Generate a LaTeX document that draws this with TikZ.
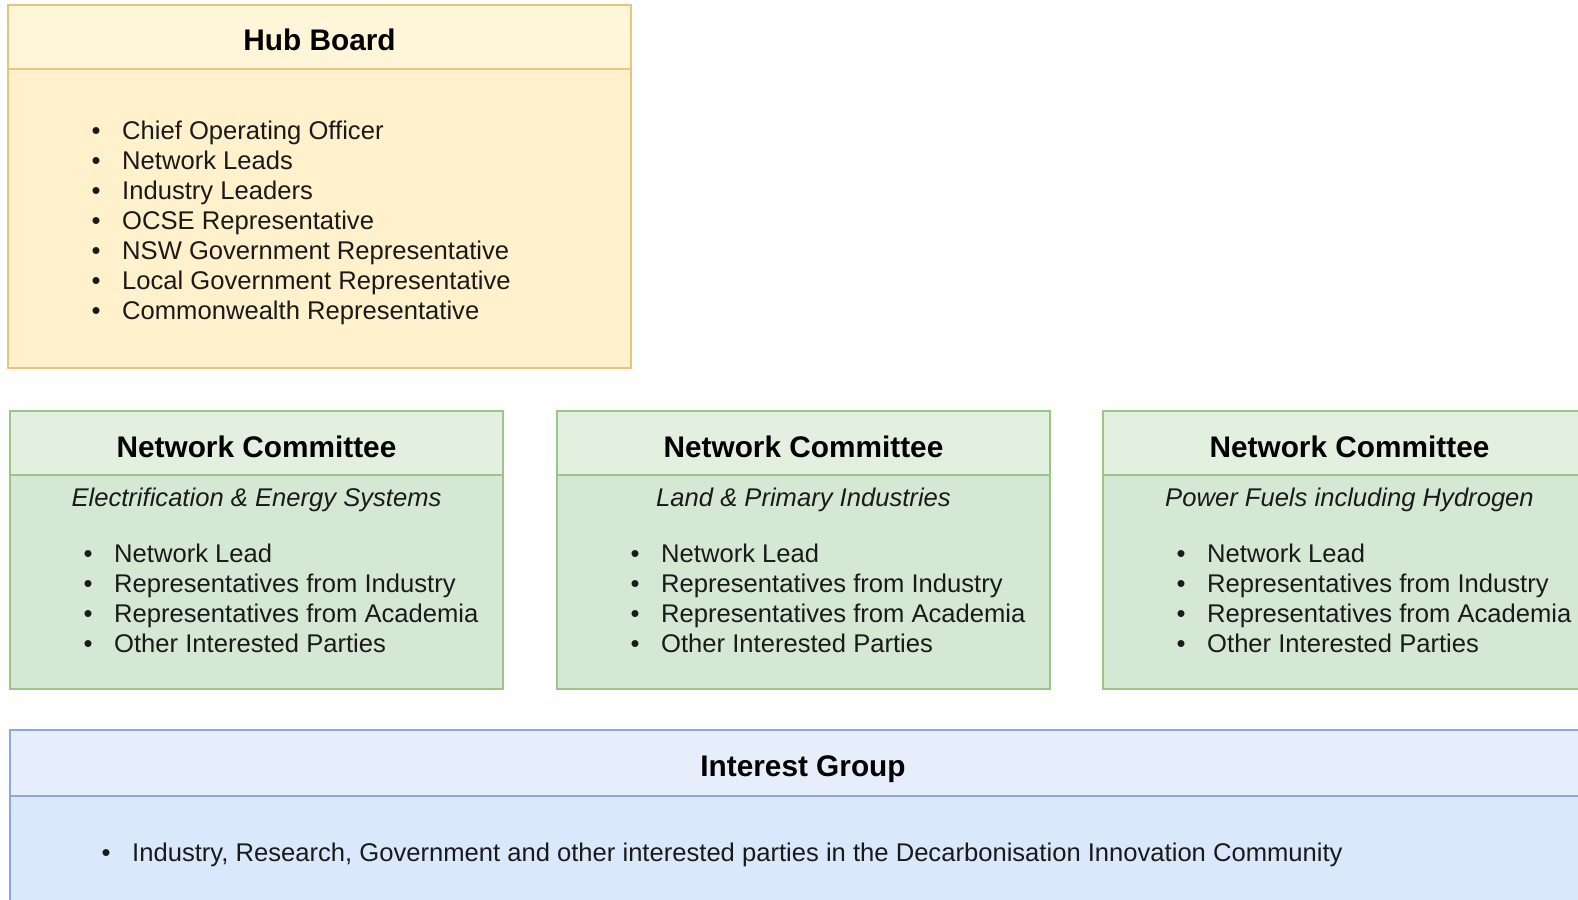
\documentclass[tikz,border=0pt]{standalone}
\usepackage{fontspec}
\setmainfont{Liberation Sans}
\definecolor{yhead}{HTML}{FFF6DA}
\definecolor{ybody}{HTML}{FFF1CB}
\definecolor{ystroke}{HTML}{E2C878}
\definecolor{ghead}{HTML}{E3F0E0}
\definecolor{gbody}{HTML}{D5E8D4}
\definecolor{gstroke}{HTML}{9CC58A}
\definecolor{bhead}{HTML}{E6EEFB}
\definecolor{bbody}{HTML}{DAE8FC}
\definecolor{bstroke}{HTML}{8EA9D6}
\definecolor{txt}{HTML}{1A1A1A}
\tikzset{
  boxline/.style={line width=2pt},
  titletext/.style={anchor=base, inner sep=0pt, font=\fontsize{29.8}{34}\selectfont\bfseries, text=black},
  subtext/.style={anchor=base, inner sep=0pt, font=\fontsize{25.6}{30}\selectfont\itshape, text=txt},
  itemtext/.style={anchor=base west, inner sep=0pt, font=\fontsize{25.6}{30}\selectfont, text=txt},
  bullettext/.style={anchor=base, inner sep=0pt, font=\fontsize{25.6}{30}\selectfont, text=txt},
}
\begin{document}
\begin{tikzpicture}[x=1pt,y=-1pt]
\useasboundingbox (0,0) rectangle (1578,899);
\fill[white] (0,0) rectangle (1578,899);

% Hub Board
\fill[yhead] (8,5) rectangle (631,69);
\fill[ybody] (8,69) rectangle (631,368);
\draw[boxline,ystroke] (8,5) rectangle (631,368);
\draw[boxline,ystroke] (8,69) -- (631,69);
\node[titletext] (hubtitle) at (319.5,51) {Hub Board};
\foreach \t [count=\i] in {Chief Operating Officer,Network Leads,Industry Leaders,OCSE Representative,NSW Government Representative,Local Government Representative,Commonwealth Representative}{
  \node[bullettext] (hbb\i) at (96,{139+30.15*(\i-1)}) {•};
  \node[itemtext] (hbt\i) at (122,{139+30.15*(\i-1)}) {\t};
}

% Network committees
\foreach \L/\sub/\k in {10/Electrification \& Energy Systems/1, 557/Land \& Primary Industries/2, 1103/Power Fuels including Hydrogen/3}{
  \fill[ghead] (\L,411) rectangle ({\L+493},475);
  \fill[gbody] (\L,475) rectangle ({\L+493},689);
  \draw[boxline,gstroke] (\L,411) rectangle ({\L+493},689);
  \draw[boxline,gstroke] (\L,475) -- ({\L+493},475);
  \node[titletext] (nct\k) at ({\L+246.5},457) {Network Committee};
  \node[subtext] (ncs\k) at ({\L+246.5},506) {\sub};
  \foreach \t [count=\i] in {Network Lead,Representatives from Industry,Representatives from Academia,Other Interested Parties}{
    \node[bullettext] (ncb\k\i) at ({\L+78},{562.5+30.1*(\i-1)}) {•};
    \node[itemtext] (nci\k\i) at ({\L+104},{562.5+30.1*(\i-1)}) {\t};
  }
}

% Interest Group
\fill[bhead] (10,730) rectangle (1596,796);
\fill[bbody] (10,796) rectangle (1596,920);
\draw[boxline,bstroke] (10,730) rectangle (1596,920);
\draw[boxline,bstroke] (10,796) -- (1596,796);
\node[titletext] (igt) at (803,776) {Interest Group};
\node[bullettext] (igb) at (106,861) {•};
\node[itemtext] (igi) at (132,861) {Industry, Research, Government and other interested parties in the Decarbonisation Innovation Community};
\end{tikzpicture}
\end{document}
